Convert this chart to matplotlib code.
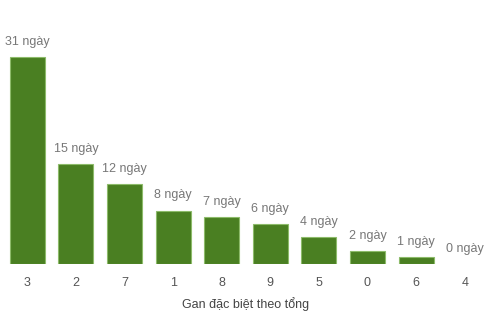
import matplotlib
matplotlib.use("Agg")
import matplotlib.pyplot as plt

plt.rcParams['font.family'] = ['Liberation Sans', 'DejaVu Sans']

# data
categories = ["3", "2", "7", "1", "8", "9", "5", "0", "6", "4"]
values = [31, 15, 12, 8, 7, 6, 4, 2, 1, 0]
labels = [f"{v} ngày" for v in values]

W, H = 492, 317
fig = plt.figure(figsize=(W / 100, H / 100), dpi=100)
# axes: left 3px, right 489px, baseline at y=264, top at y=30
ax = fig.add_axes([3 / W, (H - 264) / H, 486 / W, 234 / H])

x = range(len(categories))
edges = ["#8dbb6a" if v > 0 else "none" for v in values]
ax.bar(x, values, width=0.72, color="#4a7f22", edgecolor=edges, linewidth=0.8)

for i, (v, lab) in enumerate(zip(values, labels)):
    ax.annotate(lab, (i, v), xytext=(0, 6.5), textcoords="offset points",
                ha="center", va="bottom", fontsize=9, color="#777777")

ax.set_xlim(-0.5, len(categories) - 0.5)
ax.set_ylim(0, 35)
ax.set_xticks(list(x))
ax.set_xticklabels(categories, fontsize=9, color="#555555")
ax.tick_params(axis="x", length=0, pad=9)
ax.set_yticks([])
for s in ax.spines.values():
    s.set_visible(False)
ax.set_xlabel("Gan đặc biệt theo tổng", fontsize=9, color="#444444", labelpad=6.5)

fig.savefig("out.png", dpi=100)
